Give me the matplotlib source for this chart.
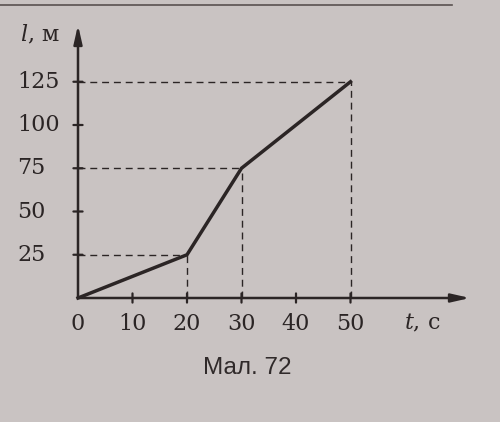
import matplotlib
matplotlib.use("Agg")
import matplotlib.pyplot as plt

plt.rcParams["mathtext.fontset"] = "dejavuserif"

# data
t_values = [0, 20, 30, 50]
l_values = [0, 25, 75, 125]
x_ticks = [0, 10, 20, 30, 40, 50]
y_ticks = [25, 50, 75, 100, 125]
dashed_points = [(20, 25), (30, 75), (50, 125)]
x_label = "t"
x_unit = "с"
y_label = "l"
y_unit = "м"
caption = "Мал. 72"

BG = "#c9c3c2"
INK = "#2b2525"

fig = plt.figure(figsize=(5.0, 4.22), dpi=100, facecolor=BG)
ax = fig.add_axes([60/500, (422-310)/422, 430/500, 300/422])
ax.set_facecolor(BG)
ax.set_xlim(-18/5.45, 412/5.45)
ax.set_ylim(-12/1.73, 288/1.73)
ax.axis("off")

# dashed helper lines
for (x, y) in dashed_points:
    ax.plot([0, x], [y, y], color=INK, lw=1.0, ls=(0, (5, 3.5)), zorder=1)
    ax.plot([x, x], [0, y], color=INK, lw=1.0, ls=(0, (5, 3.5)), zorder=1)

# axes arrows
x_end = (470-78)/5.45
y_end = (298-25)/1.73
ax.annotate("", xy=(x_end, 0), xytext=(0, 0),
            arrowprops=dict(arrowstyle="-|>,head_length=1.1,head_width=0.25",
                            color=INK, lw=1.8, shrinkA=0, shrinkB=0), zorder=3)
ax.annotate("", xy=(0, y_end), xytext=(0, 0),
            arrowprops=dict(arrowstyle="-|>,head_length=1.1,head_width=0.25",
                            color=INK, lw=1.8, shrinkA=0, shrinkB=0), zorder=3)

# ticks
tl = 3.3
for xv in x_ticks[1:]:
    ax.annotate("", xy=(xv, 0), xytext=(0, tl), textcoords="offset points",
                arrowprops=dict(arrowstyle="-", color=INK, lw=1.6, shrinkA=0, shrinkB=0))
    ax.annotate("", xy=(xv, 0), xytext=(0, -tl), textcoords="offset points",
                arrowprops=dict(arrowstyle="-", color=INK, lw=1.6, shrinkA=0, shrinkB=0))
for yv in y_ticks:
    ax.annotate("", xy=(0, yv), xytext=(tl, 0), textcoords="offset points",
                arrowprops=dict(arrowstyle="-", color=INK, lw=1.6, shrinkA=0, shrinkB=0))
    ax.annotate("", xy=(0, yv), xytext=(-tl, 0), textcoords="offset points",
                arrowprops=dict(arrowstyle="-", color=INK, lw=1.6, shrinkA=0, shrinkB=0))

# data line
ax.plot(t_values, l_values, color=INK, lw=2.5, solid_joinstyle="miter", zorder=4)

serif = ["DejaVu Serif"]
fs = 16
for xv in x_ticks:
    ax.annotate(str(xv), xy=(xv, 0), xytext=(0, -18.5), textcoords="offset points",
                ha="center", va="center", fontsize=fs, family=serif, color=INK)
for yv in y_ticks:
    ax.annotate(str(yv), xy=(0, yv), xytext=(-43.5, 0), textcoords="offset points",
                ha="left", va="center", fontsize=fs, family=serif, color=INK)

# axis labels
ax.annotate(f"${y_label}$, {y_unit}", xy=(0, 0), xytext=(-41.5, (298-35)/1.389),
            textcoords="offset points", ha="left", va="center", fontsize=fs,
            family=serif, color=INK)
ax.annotate(f"${x_label}$, {x_unit}", xy=(0, 0), xytext=((404-78)/1.389, -18.5),
            textcoords="offset points", ha="left", va="center", fontsize=fs,
            family=serif, color=INK)

# caption
fig.text(247/500, 1 - 368/422, caption, ha="center", va="center",
         fontsize=17.5, family=["Liberation Sans"], color="#302a2a")

# page edge line at top
fig.add_artist(plt.Line2D([0, 452/500], [1 - 4.5/422, 1 - 4.5/422],
                          transform=fig.transFigure, color="#5a5250", lw=1.2))

fig.savefig("out.png", dpi=100, facecolor=BG)
